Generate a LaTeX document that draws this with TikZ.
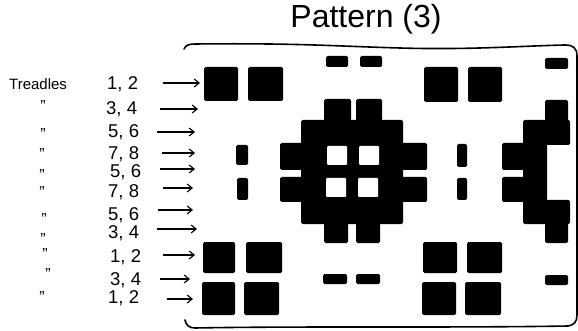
\documentclass[tikz,border=0pt]{standalone}
\usepackage{fontspec}
\setmainfont{Liberation Sans}
\usetikzlibrary{arrows.meta}
\begin{document}
\begin{tikzpicture}[x=1pt,y=-1pt,
  blk/.style={fill=black,rounded corners=1.5pt},
  hole/.style={fill=white,rounded corners=1pt},
  frame/.style={line width=1.6pt,line cap=round,line join=round},
  feed/.style={line width=1.1pt,-{Straight Barb[length=5pt,width=8pt,line width=1.1pt]}},
  lbl/.style={font=\fontsize{18.5}{18.5}\selectfont,anchor=base west,inner sep=0pt},
  dit/.style={font=\fontsize{16}{16}\selectfont,anchor=north,inner sep=0pt},
]
\useasboundingbox (0,0) rectangle (578,331);

% title and heading
\node[font=\fontsize{32}{32}\selectfont,anchor=base,inner sep=0pt] (title) at (366,28) {Pattern (3)};
\node[font=\fontsize{15}{15}\selectfont,anchor=base west,inner sep=0pt] (tr) at (9,90) {Treadles};

% treadle numbers
\node[lbl] (n1) at (107,90) {1, 2};
\node[lbl] (n2) at (106,115) {3, 4};
\node[lbl] (n3) at (108,138) {5, 6};
\node[lbl] (n4) at (108,160) {7, 8};
\node[lbl] (n5) at (110,178) {5, 6};
\node[lbl] (n6) at (108,197) {7, 8};
\node[lbl] (n7) at (108,221) {5, 6};
\node[lbl] (n8) at (108,238) {3, 4};
\node[lbl] (n9) at (110,262) {1, 2};
\node[lbl] (n10) at (110,285) {3, 4};
\node[lbl] (n11) at (108,303) {1, 2};

% ditto marks
\node[dit] (d2) at (43,100) {"};
\node[dit] (d3) at (43,128) {"};
\node[dit] (d4) at (42,148) {"};
\node[dit] (d5) at (42,169) {"};
\node[dit] (d6) at (42,186) {"};
\node[dit] (d7) at (44,213) {"};
\node[dit] (d8) at (43,233) {"};
\node[dit] (d9) at (45,248) {"};
\node[dit] (d10) at (48,268) {"};
\node[dit] (d11) at (42,291) {"};

% arrows
\coordinate (s1) at (163,83);  \coordinate (e1) at (200,83);
\coordinate (s2) at (160,109); \coordinate (e2) at (198,109);
\coordinate (s3) at (157,132); \coordinate (e3) at (195,132);
\coordinate (s4) at (162,153); \coordinate (e4) at (195,153);
\coordinate (s5) at (160,169); \coordinate (e5) at (195,169);
\coordinate (s6) at (163,188); \coordinate (e6) at (193,188);
\coordinate (s7) at (158,210); \coordinate (e7) at (193,210);
\coordinate (s8) at (157,229); \coordinate (e8) at (197,229);
\coordinate (s9) at (163,255); \coordinate (e9) at (195,255);
\coordinate (s10) at (160,279); \coordinate (e10) at (190,279);
\coordinate (s11) at (167,299); \coordinate (e11) at (193,299);
\foreach \i in {1,...,11} { \draw[feed] (s\i) -- (e\i); }

% frame
\draw[frame] (184,49) .. controls (186,45) and (189,44) .. (195,44)
  .. controls (300,43) and (330,46) .. (400,48)
  .. controls (470,50) and (520,46) .. (565,45)
  .. controls (573,45) and (577,48) .. (577,56) -- (577,315)
  .. controls (577,322) and (574,325) .. (568,326)
  .. controls (450,328) and (300,326) .. (195,328)
  .. controls (189,328) and (186,325) .. (185,320);

% top thin row
\fill[blk] (326,56) rectangle (348,67);
\fill[blk] (360,56) rectangle (382,67);
\fill[blk] (545,58) rectangle (568,69);
% row 1
\fill[blk] (204,67) rectangle (238,101);
\fill[blk] (248,67) rectangle (283,101);
\fill[blk] (424,67) rectangle (458,102);
\fill[blk] (468,67) rectangle (502,102);
% central motif
\fill[blk] (324,99) rectangle (351,122);
\fill[blk] (356,99) rectangle (382,122);
\fill[blk] (301,120) rectangle (403,145);
\fill[blk] (280,143) rectangle (427,170);
\fill[blk] (301,168) rectangle (403,179);
\fill[blk] (280,177) rectangle (427,202);
\fill[blk] (301,200) rectangle (403,224);
\fill[blk] (324,222) rectangle (348,243);
\fill[blk] (356,222) rectangle (380,243);
\fill[hole] (327,146) rectangle (347,165);
\fill[hole] (359,146) rectangle (379,165);
\fill[hole] (326,178) rectangle (346,197);
\fill[hole] (358,178) rectangle (378,197);
% right motif (cut by frame)
\fill[blk] (545,100) rectangle (568,122);
\fill[blk] (523,120) rectangle (570,145);
\fill[blk] (502,143) rectangle (547,170);
\fill[blk] (523,168) rectangle (547,179);
\fill[blk] (502,177) rectangle (547,202);
\fill[blk] (523,200) rectangle (570,224);
\fill[blk] (545,222) rectangle (568,243);
% bars
\fill[blk] (236,145) rectangle (248,165);
\fill[blk] (237,178) rectangle (248,200);
\fill[blk] (457,144) rectangle (467,167);
\fill[blk] (457,178) rectangle (467,200);
% row 9
\fill[blk] (203,242) rectangle (235,273);
\fill[blk] (246,242) rectangle (282,273);
\fill[blk] (423,242) rectangle (457,273);
\fill[blk] (467,242) rectangle (502,273);
% row 10
\fill[blk] (323,274) rectangle (347,284);
\fill[blk] (356,274) rectangle (380,284);
\fill[blk] (545,275) rectangle (568,285);
% row 11
\fill[blk] (202,282) rectangle (235,315);
\fill[blk] (244,282) rectangle (279,315);
\fill[blk] (422,282) rectangle (456,315);
\fill[blk] (465,282) rectangle (501,315);
\end{tikzpicture}
\end{document}
